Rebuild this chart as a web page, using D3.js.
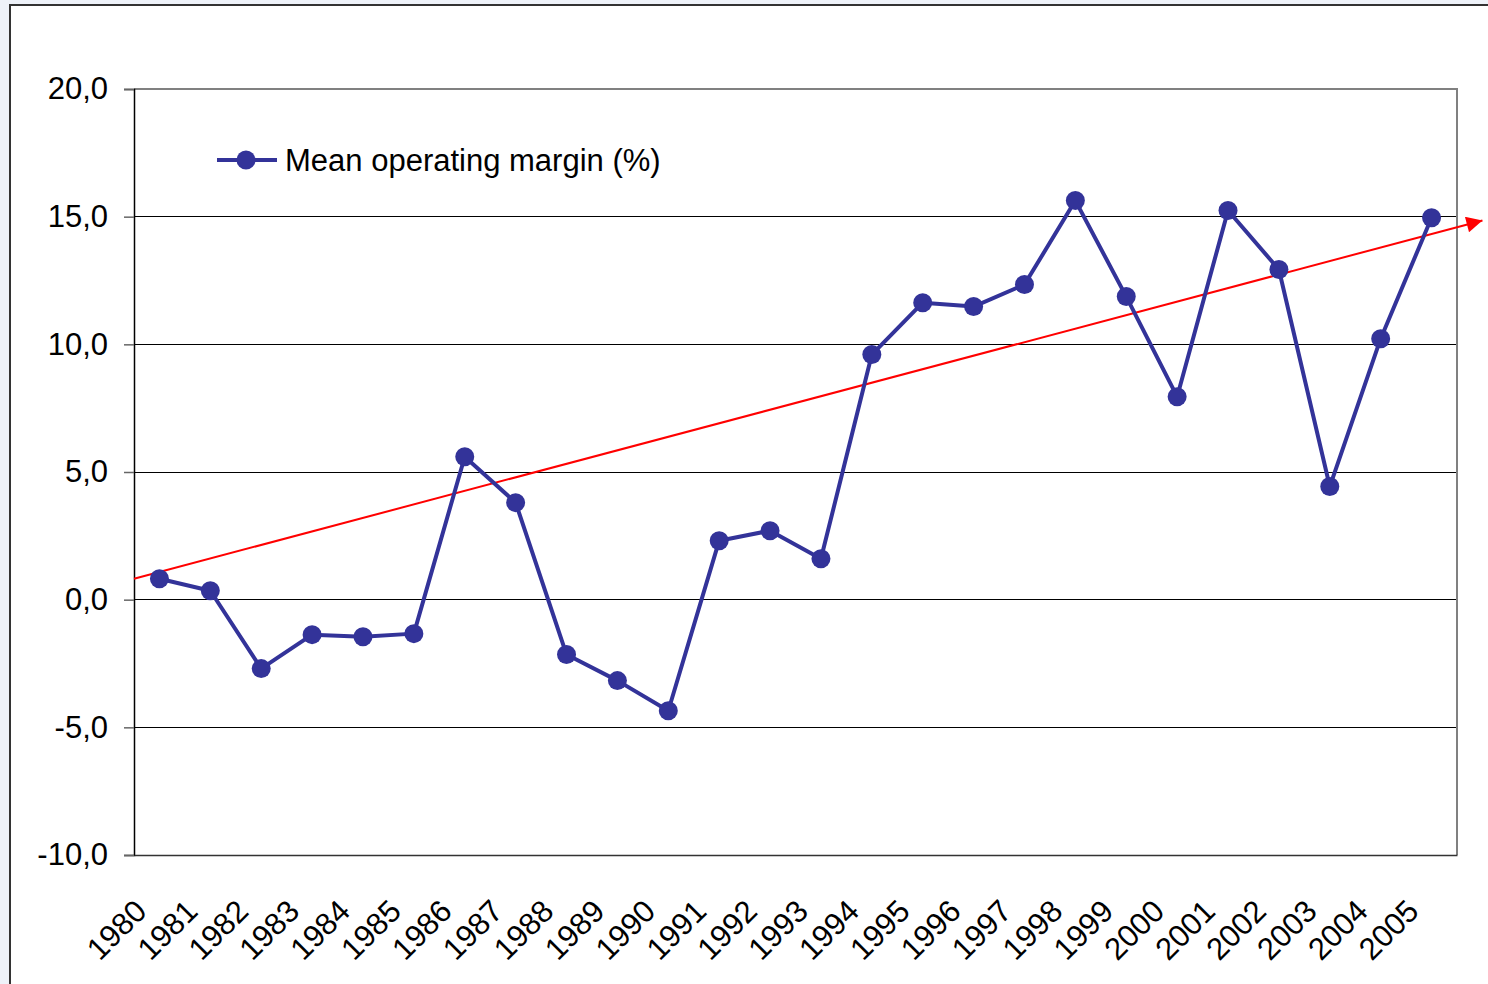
<!DOCTYPE html>
<html><head><meta charset="utf-8">
<script src="https://cdn.jsdelivr.net/npm/d3@7"></script>
<style>
html,body{margin:0;padding:0;background:#eef2f9;}
svg{display:block;font-family:"Liberation Sans",Arial,sans-serif;}
</style></head>
<body>
<svg id="chart" width="1488" height="984"></svg>
<script>
const years = ["1980","1981","1982","1983","1984","1985","1986","1987","1988","1989","1990","1991","1992","1993","1994","1995","1996","1997","1998","1999","2000","2001","2002","2003","2004","2005"];
const margin = [0.82,0.35,-2.7,-1.37,-1.45,-1.33,5.6,3.8,-2.15,-3.17,-4.35,2.31,2.7,1.6,9.6,11.63,11.48,12.34,15.63,11.87,7.95,15.24,12.93,4.43,10.22,14.96];
const yTicks = [-10,-5,0,5,10,15,20];
const seriesName = "Mean operating margin (%)";
// trend arrow: [category index position, value]
const trendIdx = [-0.5, 26.0];
const trendVal = [0.82, 14.85];

const svg = d3.select("#chart");
const W=1488,H=984;
const L=134,R=1457,T=89,B=855;
const FS=31;

svg.append("rect").attr("x",10).attr("y",5).attr("width",W+20).attr("height",H+20)
  .attr("fill","#fff").attr("stroke","#333").attr("stroke-width",2);

const x = d3.scaleBand().domain(years).range([L,R]);
const y = d3.scaleLinear().domain([-10,20]).range([B,T]);
const xi = d3.scaleLinear().domain([0,years.length-1]).range([x(years[0])+x.bandwidth()/2, x(years[years.length-1])+x.bandwidth()/2]);

// gridlines
svg.append("g").selectAll("line").data(yTicks.filter(d=>d>-10&&d<20)).join("line")
  .attr("x1",L).attr("x2",R).attr("y1",d=>y(d)).attr("y2",d=>y(d))
  .attr("stroke","#000").attr("stroke-width",1).attr("shape-rendering","crispEdges");
// plot border top/right
svg.append("path").attr("d",`M${L},${T}H${R}V${B}`).attr("fill","none").attr("stroke","#808080").attr("stroke-width",1.5).attr("shape-rendering","crispEdges");

// y axis
const yAxis = d3.axisLeft(y).tickValues(yTicks).tickSize(10).tickPadding(16)
  .tickFormat(d=>d3.format(".1f")(d).replace(".",",").replace("\u2212","-"));
const gy = svg.append("g").attr("transform",`translate(${L},0)`).call(yAxis);
gy.select(".domain").attr("stroke","#000").attr("stroke-width",1.5);
gy.selectAll(".tick line").attr("stroke","#666").attr("stroke-width",1.5);
gy.selectAll("text").attr("font-size",FS).attr("fill","#000").attr("font-family","'Liberation Sans',Arial,sans-serif");

// x axis
const xAxis = d3.axisBottom(x).tickSize(0).tickPadding(0);
const gx = svg.append("g").attr("transform",`translate(0,${B})`).call(xAxis);
gx.select(".domain").attr("stroke","#333").attr("stroke-width",1.5);
gx.selectAll("text").attr("font-size",FS).attr("fill","#000").attr("font-family","'Liberation Sans',Arial,sans-serif")
  .attr("text-anchor","end").attr("dy",0).attr("y",0)
  .attr("transform","translate(-11,58) rotate(-45)");

// trend arrow
svg.append("defs").append("marker").attr("id","arr").attr("viewBox","0 0 10 10")
  .attr("refX",10).attr("refY",5).attr("markerWidth",20).attr("markerHeight",16)
  .attr("markerUnits","userSpaceOnUse").attr("orient","auto")
  .append("path").attr("d","M0,0L10,5L0,10Z").attr("fill","#ff0000");
svg.append("line")
  .attr("x1",xi(trendIdx[0])).attr("y1",y(trendVal[0]))
  .attr("x2",xi(trendIdx[1])).attr("y2",y(trendVal[1]))
  .attr("stroke","#ff0000").attr("stroke-width",2).attr("marker-end","url(#arr)");

// series
const line = d3.line().x((d,i)=>xi(i)).y(d=>y(d));
svg.append("path").datum(margin).attr("d",line).attr("fill","none")
  .attr("stroke","#333399").attr("stroke-width",4).attr("stroke-linejoin","round");
svg.append("g").selectAll("circle").data(margin).join("circle")
  .attr("cx",(d,i)=>xi(i)).attr("cy",d=>y(d)).attr("r",9.5).attr("fill","#333399");

// legend
const lg = svg.append("g");
lg.append("line").attr("x1",217).attr("x2",277).attr("y1",160).attr("y2",160).attr("stroke","#333399").attr("stroke-width",4);
lg.append("circle").attr("cx",246).attr("cy",160).attr("r",9.5).attr("fill","#333399");
lg.append("text").attr("x",285).attr("y",171).attr("font-size",FS).attr("fill","#000").text(seriesName);
</script>
</body></html>
